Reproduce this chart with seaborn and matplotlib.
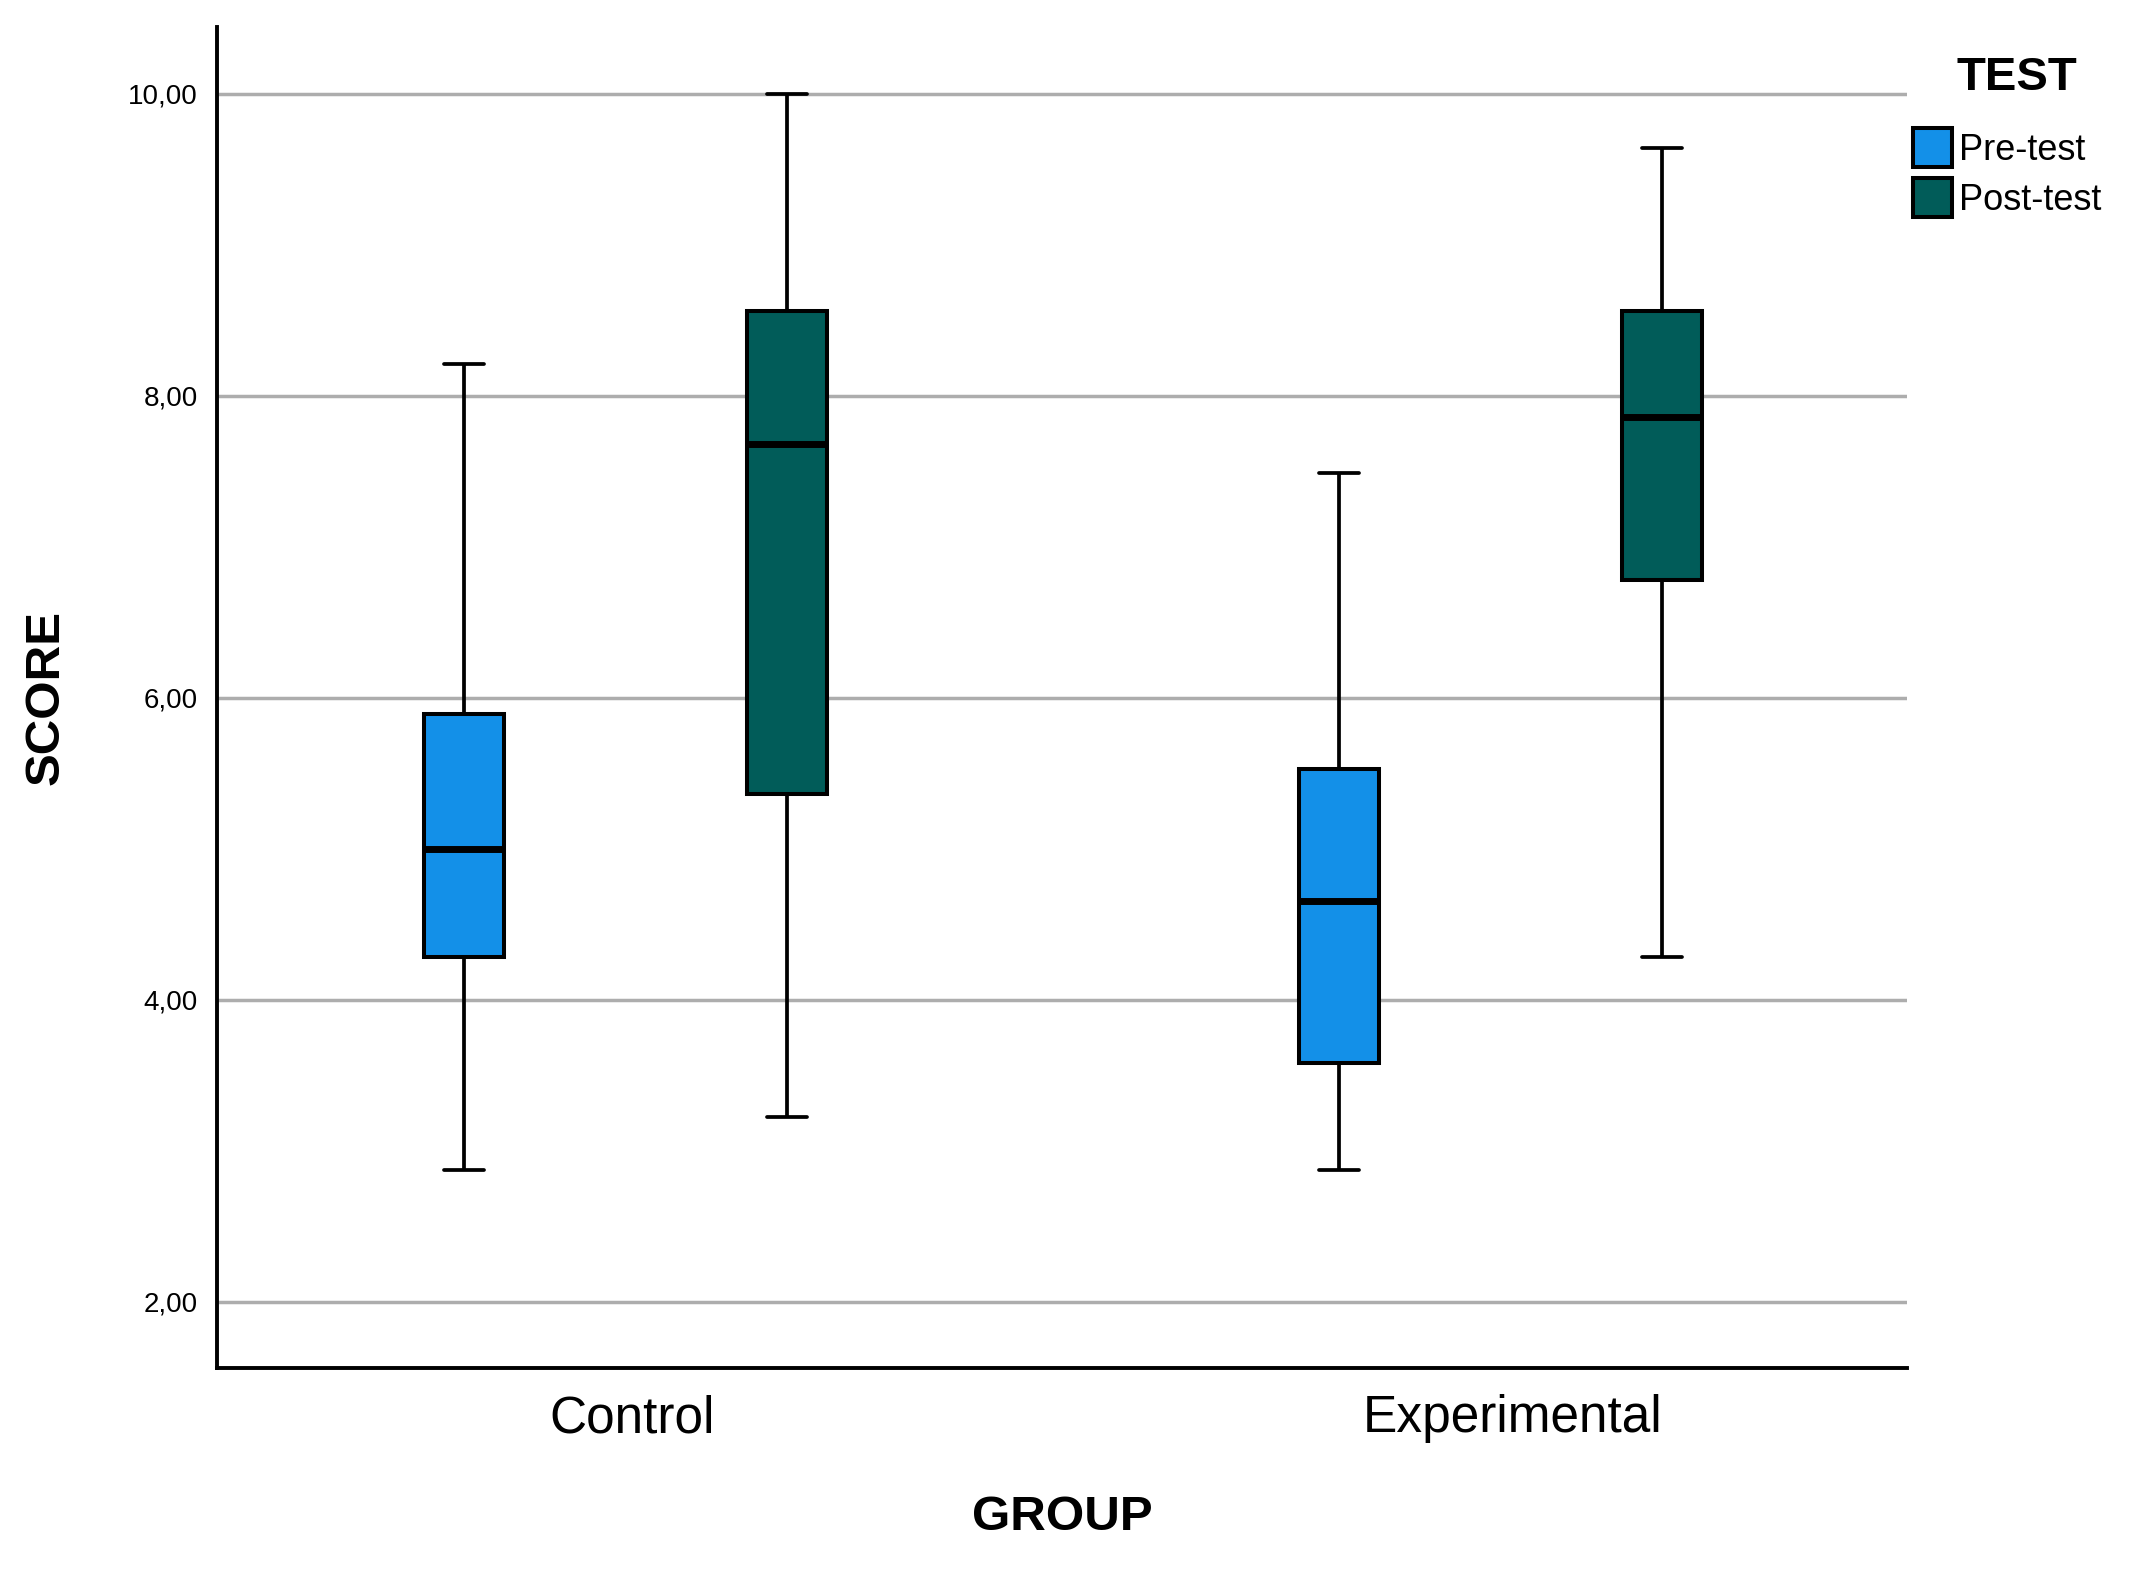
import matplotlib
matplotlib.use("Agg")
import matplotlib.pyplot as plt
import matplotlib.transforms as mtransforms
import pandas as pd
import seaborn as sns

# five-number summaries: min, Q1, median, Q3, max
groups = ["Control", "Experimental"]
tests = ["Pre-test", "Post-test"]
control_pre = [2.87, 4.28, 5.00, 5.89, 8.21]
control_post = [3.22, 5.36, 7.68, 8.56, 10.00]
exp_pre = [2.87, 3.58, 4.65, 5.53, 7.49]
exp_post = [4.28, 6.78, 7.86, 8.56, 9.64]
y_ticks = [2, 4, 6, 8, 10]
colors = ["#1390E8", "#015C59"]

rows = []
for g, t, vals in [("Control", "Pre-test", control_pre),
                   ("Control", "Post-test", control_post),
                   ("Experimental", "Pre-test", exp_pre),
                   ("Experimental", "Post-test", exp_post)]:
    for v in vals:
        rows.append({"GROUP": g, "TEST": t, "SCORE": v})
df = pd.DataFrame(rows)

sns.set_style("white")
plt.rcParams['font.family'] = ['Liberation Sans', 'DejaVu Sans']
plt.rcParams['text.color'] = 'black'
plt.rcParams['axes.labelcolor'] = 'black'

fig = plt.figure(figsize=(21.29, 15.73), dpi=100)
ax = fig.add_axes([0.102, 0.1303, 0.7935, 0.8525])

ax.set_axisbelow(True)
ax.yaxis.grid(True, color="#ADADAD", linewidth=2.5)

sns.boxplot(data=df, x="GROUP", y="SCORE", hue="TEST",
            order=groups, hue_order=tests, palette=colors,
            width=0.738, gap=0.752, whis=(0, 100),
            linecolor="black", linewidth=2.9, saturation=1,
            medianprops={"linewidth": 5},
            whiskerprops={"linewidth": 2.7},
            capprops={"linewidth": 2.7},
            ax=ax)

ax.set_xlim(-0.467, 1.464)
ax.set_ylim(1.56, 10.44)
ax.set_yticks(y_ticks)
ax.set_yticklabels([f"{v:.2f}".replace(".", ",") for v in y_ticks])

for side in ["top", "right"]:
    ax.spines[side].set_visible(False)
for side in ["left", "bottom"]:
    ax.spines[side].set_color("black")
    ax.spines[side].set_linewidth(2.8)

ax.tick_params(axis="y", length=0, pad=14, labelsize=20, colors="black")
ax.tick_params(axis="x", length=0, pad=19, labelsize=37, colors="black")

# category labels sit a little right of the box pairs in the original
for lab, dx in zip(ax.get_xticklabels(), [5, 9]):
    lab.set_transform(lab.get_transform() +
                      mtransforms.ScaledTranslation(dx * 1.357 / 100, 0, fig.dpi_scale_trans))

ax.set_xlabel("GROUP", fontsize=35.5, fontweight="bold")
ax.set_ylabel("SCORE", fontsize=35.5, fontweight="bold")
ax.xaxis.set_label_coords(0.5, -0.095)
ax.yaxis.set_label_coords(-0.088, 0.5)

handles, labels = ax.get_legend_handles_labels()
ax.get_legend().remove()
fig.text(0.9474, 0.9428, "TEST", fontsize=34, fontweight="bold",
         ha="center", va="baseline")
fig.legend(handles, labels, loc="upper left",
           bbox_to_anchor=(0.8986, 0.9186), frameon=False,
           fontsize=26, handlelength=1.08, handleheight=1.3,
           handletextpad=0.2, borderpad=0, borderaxespad=0,
           labelspacing=0.28)

fig.savefig("out.png", dpi=100)
